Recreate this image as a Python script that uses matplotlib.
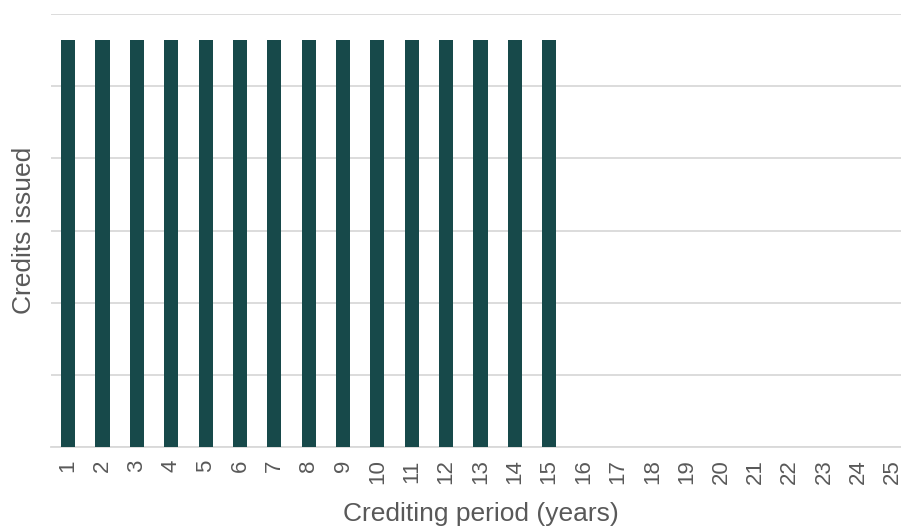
import matplotlib.pyplot as plt
import numpy as np

plt.rcParams['font.family'] = ['Liberation Sans', 'DejaVu Sans']

# crediting period years and credits issued per year (no values shown, equal bars)
years = list(range(1, 26))
credits = [5.64] * 15 + [0] * 10

fig = plt.figure(figsize=(9.01, 5.26), dpi=100)
ax = fig.add_axes([51 / 901, 1 - 447 / 526, 859 / 901, 433 / 526])

x = np.arange(len(years))
ax.bar(x, credits, width=0.41, color='#17494a', zorder=3)

ax.set_xlim(-0.5, len(years) - 0.5)
ax.set_ylim(0, 6)
ax.set_yticks(np.arange(0, 7, 1))
ax.set_yticklabels([])
ax.tick_params(axis='y', length=0)
ax.yaxis.grid(True, color='#d9d9d9', linewidth=1.3, zorder=0)

ax.set_xticks(x)
ax.set_xticklabels([str(y) for y in years], rotation=90, fontsize=16, color='#595959')
ax.tick_params(axis='x', length=0, pad=9)

for s in ['top', 'right', 'left']:
    ax.spines[s].set_visible(False)
ax.spines['bottom'].set_color('#d9d9d9')
ax.spines['bottom'].set_linewidth(1.3)

ax.set_xlabel('Crediting period (years)', fontsize=19, color='#595959', labelpad=12.5)
ax.set_ylabel('Credits issued', fontsize=19, color='#595959')
ax.yaxis.set_label_coords(-0.017, 0.5)

plt.savefig('out.png', dpi=100)
